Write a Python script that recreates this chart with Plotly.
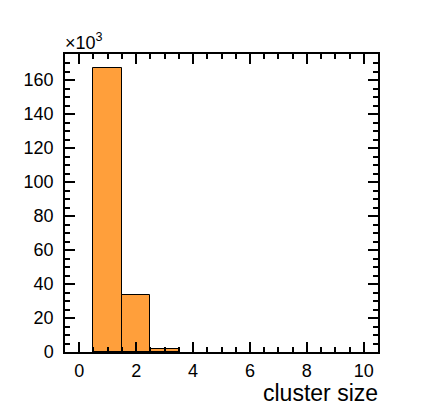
import plotly.graph_objects as go

# cluster size histogram (counts in units of 10^3)
cluster_sizes = [1, 2, 3]
counts_k = [167.0, 33.5, 1.7]

x_ticks = [0, 2, 4, 6, 8, 10]
y_ticks = [0, 20, 40, 60, 80, 100, 120, 140, 160]

bar_color = "#FF9F3B"
font_family = "Liberation Sans, Arial, Helvetica, sans-serif"

fig = go.Figure()
fig.add_trace(go.Bar(
    x=cluster_sizes,
    y=counts_k,
    width=1.0,
    marker=dict(color=bar_color, line=dict(color="black", width=1)),
))

axis_common = dict(
    showline=True,
    linecolor="black",
    linewidth=1.5,
    mirror="allticks",
    ticks="inside",
    tickcolor="black",
    tickwidth=1.5,
    showgrid=False,
    zeroline=False,
    tickfont=dict(family=font_family, size=18, color="black"),
)

fig.update_xaxes(
    range=[-0.5, 10.5],
    tickvals=x_ticks,
    ticklen=10,
    ticklabelstandoff=2,
    minor=dict(dtick=0.5, ticks="inside", ticklen=5, tickcolor="black", tickwidth=1.5),
    **axis_common,
)
fig.update_yaxes(
    range=[0, 175.3],
    tickvals=y_ticks,
    ticklen=10,
    ticklabelstandoff=6,
    minor=dict(dtick=5, ticks="inside", ticklen=5, tickcolor="black", tickwidth=1.5),
    **axis_common,
)

fig.add_annotation(
    text="×10<sup>3</sup>", xref="paper", yref="paper", x=-0.005, y=0.995,
    xanchor="left", yanchor="bottom", showarrow=False,
    font=dict(family=font_family, size=18, color="black"),
)
fig.add_annotation(
    text="cluster size", xref="paper", yref="paper", x=1.005, y=-0.088,
    xanchor="right", yanchor="top", showarrow=False,
    font=dict(family=font_family, size=23, color="black"),
)

# page body has an 8px margin, so the figure is a bit smaller than the window
fig.update_layout(
    width=419,
    height=399,
    margin=dict(l=57, r=49, t=46, b=55),
    plot_bgcolor="white",
    paper_bgcolor="white",
    showlegend=False,
    bargap=0,
)

fig.write_html("out.html")
